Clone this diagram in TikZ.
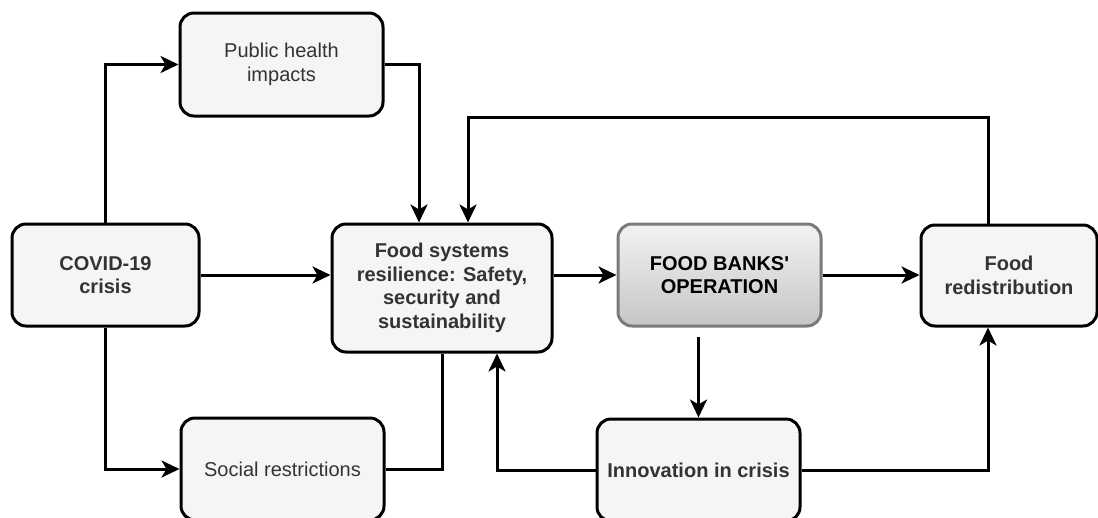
\documentclass[tikz,border=0pt]{standalone}
\usepackage{fontspec}
\setmainfont{Liberation Sans}[Ligatures=TeXOff]
\usetikzlibrary{arrows.meta,calc}
\definecolor{boxfill}{HTML}{F5F5F5}
\definecolor{txt}{HTML}{333333}
\definecolor{bankborder}{HTML}{7A7A7A}
\definecolor{banktop}{HTML}{F2F2F2}
\definecolor{bankbot}{HTML}{C6C6C6}
\begin{document}
\begin{tikzpicture}[x=1pt,y=-1pt,
  box/.style={draw=black, line width=3pt, fill=boxfill, rounded corners=14pt, align=center, text=txt, inner sep=0pt, font=\fontsize{20pt}{23.5pt}\selectfont},
  boldbox/.style={box, font=\fontsize{20pt}{23.5pt}\selectfont\bfseries},
  bankbox/.style={boldbox, draw=bankborder, top color=banktop, bottom color=bankbot, text=black},
  conn/.style={line width=3pt, -{Stealth[length=18pt,width=17pt,inset=5pt]}},
  plainline/.style={line width=3pt}]
\useasboundingbox (0,0) rectangle (1098,517);
\fill[white] (0,0) rectangle (1098,517);

\node[boldbox, minimum width=187pt, minimum height=102pt] (covid) at (105.5,275) {COVID-19\\crisis};
\node[box, minimum width=203pt, minimum height=103pt] (pub) at (281.5,64.5) {Public health\\impacts};
\node[boldbox, minimum width=220pt, minimum height=128pt] (food) at (442,288) {Food systems\\resilience: Safety,\\security and\\sustainability};
\node[bankbox, minimum width=203pt, minimum height=102pt] (banks) at (719.5,275) {FOOD BANKS'\\OPERATION};
\node[boldbox, minimum width=176pt, minimum height=101pt] (redis) at (1009,275.5) {Food\\redistribution};
\node[box, minimum width=203pt, minimum height=102pt] (social) at (282.5,469) {Social restrictions};
\node[boldbox, minimum width=203pt, minimum height=102pt] (innov) at (698.5,470) {Innovation in crisis};

\coordinate (fA) at ($(food.north)+(-23,0)$);
\coordinate (fB) at ($(food.north)+(26,0)$);
\coordinate (rT) at ($(redis.north)+(-21,0)$);
\coordinate (topturn) at (rT |- pub.south);
\coordinate (bS) at ($(innov.north |- banks.south)+(0,9)$);
\coordinate (fC) at ($(food.south)+(55,0)$);
\coordinate (rB) at ($(redis.south)+(-21,0)$);

\draw[conn] (covid.north) |- (pub.west);
\draw[conn] (covid.south) |- (social.west);
\draw[conn] (covid.east) -- (covid.east -| food.west);
\draw[conn] (pub.east) -| (fA);
\draw[conn] (rT) -- (topturn) -| (fB);
\draw[conn] (banks.west -| food.east) -- (banks.west);
\draw[conn] (banks.east) -- (banks.east -| redis.west);
\draw[conn] (bS) -- (innov.north);
\draw[plainline] (social.east) -| (food.south);
\draw[conn] (innov.west) -| (fC);
\draw[conn] (innov.east) -| (rB);
\end{tikzpicture}
\end{document}
